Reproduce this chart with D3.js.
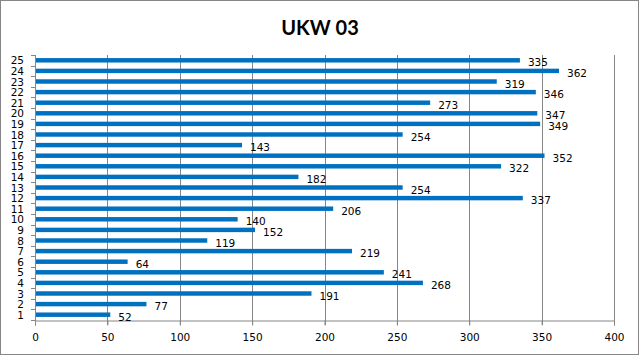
<!DOCTYPE html>
<html><head><meta charset="utf-8">
<script src="https://cdn.jsdelivr.net/npm/d3@7"></script>
<style>body{margin:0;background:#fff}svg{display:block}</style>
</head><body>
<script>
const categories = ["1","2","3","4","5","6","7","8","9","10","11","12","13","14","15","16","17","18","19","20","21","22","23","24","25"];
const values = [52,77,191,268,241,64,219,119,152,140,206,337,254,182,322,352,143,254,349,347,273,346,319,362,335];
const xTicks = [0,50,100,150,200,250,300,350,400];
const title = "UKW 03";

const W = 639, H = 355;
const L = 35, R = 614, T = 55, B = 320;
const svg = d3.select("body").append("svg").attr("width", W).attr("height", H);
svg.append("rect").attr("x",0.5).attr("y",0.5).attr("width",W-1).attr("height",H-1)
  .attr("fill","#fff").attr("stroke","#868686");
svg.append("text").attr("x",320).attr("y",35).attr("text-anchor","middle")
  .attr("font-family","Lato, 'Open Sans', sans-serif").attr("font-weight","bold")
  .attr("font-size",20).attr("fill","#000").text(title);

const x = d3.scaleLinear().domain([0,400]).range([L,R]);
const y = d3.scaleBand().domain(categories).range([B,T]).paddingInner(0.58).paddingOuter(0.29);

// gridlines
svg.append("g").selectAll("line").data(xTicks.slice(1)).join("line")
  .attr("x1",d=>Math.round(x(d))+0.5).attr("x2",d=>Math.round(x(d))+0.5)
  .attr("y1",T).attr("y2",B+5).attr("stroke","#868686");

// x axis
const xa = svg.append("g").attr("transform",`translate(0,${B+0.5})`)
  .call(d3.axisBottom(x).tickValues(xTicks).tickSize(5).tickPadding(8));
xa.select(".domain").attr("stroke","#868686");
xa.selectAll(".tick line").attr("stroke","#868686");
xa.selectAll("text").attr("font-family","'DejaVu Sans', Verdana, sans-serif").attr("font-size",10.5).attr("fill","#000");

// y axis
const step = (B-T)/categories.length;
const yg = svg.append("g");
yg.append("line").attr("x1",L+0.5).attr("x2",L+0.5).attr("y1",T).attr("y2",B+5).attr("stroke","#868686");
yg.selectAll("line.t").data(d3.range(categories.length+1)).join("line").attr("class","t")
  .attr("x1",L-4).attr("x2",L).attr("y1",d=>Math.round(T+d*step)+0.5).attr("y2",d=>Math.round(T+d*step)+0.5)
  .attr("stroke","#868686");
yg.selectAll("text").data(categories).join("text")
  .attr("x",L-11).attr("y",d=>y(d)+y.bandwidth()/2+4).attr("text-anchor","end")
  .attr("font-family","'DejaVu Sans', Verdana, sans-serif").attr("font-size",10.5).attr("fill","#000").text(d=>d);

// bars
svg.append("g").selectAll("rect").data(values).join("rect")
  .attr("x",x(0)+1).attr("y",(d,i)=>y(categories[i]))
  .attr("width",d=>x(d)-x(0)-1).attr("height",y.bandwidth()).attr("fill","#0070C0");

// labels
svg.append("g").selectAll("text").data(values).join("text")
  .attr("x",d=>x(d)+8).attr("y",(d,i)=>y(categories[i])+y.bandwidth()/2+6)
  .attr("font-family","'DejaVu Sans', Verdana, sans-serif").attr("font-size",10.5).attr("fill","#000").text(d=>d);
</script>
</body></html>
